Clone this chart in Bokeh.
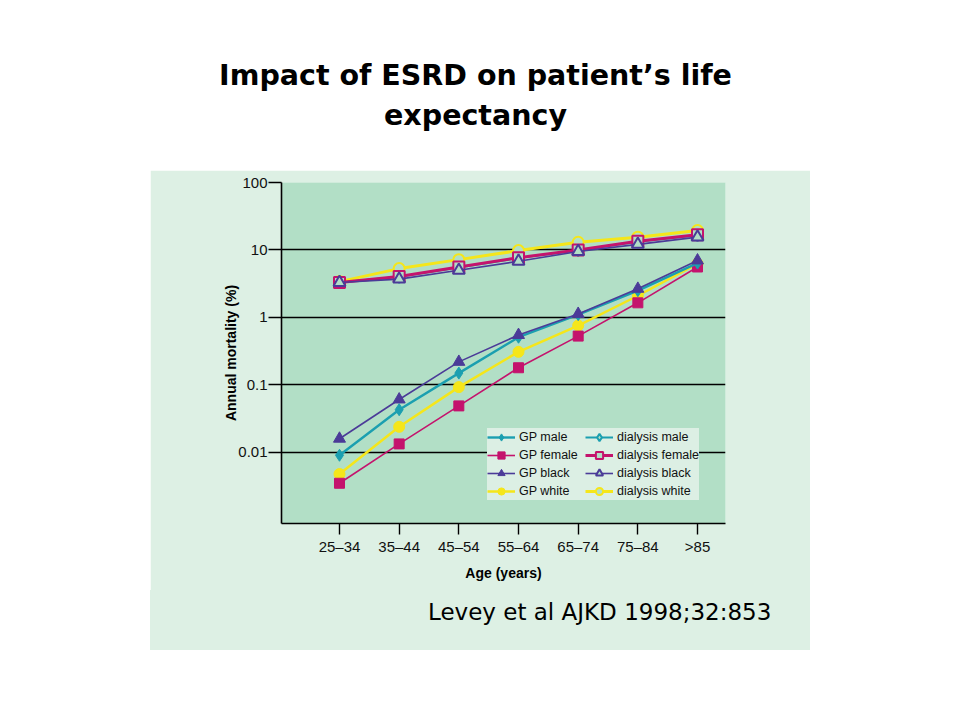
from bokeh.plotting import figure
from bokeh.models import (Range1d, FixedTicker, CustomJSTickFormatter, Legend,
                          LegendItem, Spacer, Div)
from bokeh.layouts import column, row
from bokeh.embed import file_html
from bokeh.resources import INLINE
from bokeh.core.properties import value

# ---------------- data ----------------
age_groups = ["25–34", "35–44", "45–54", "55–64", "65–74", "75–84", ">85"]

gp_male = [0.0091, 0.043, 0.15, 0.51, 1.10, 2.5, 6.4]
gp_female = [0.0035, 0.0134, 0.049, 0.18, 0.53, 1.65, 5.6]
gp_black = [0.016, 0.061, 0.22, 0.55, 1.13, 2.66, 7.0]
gp_white = [0.0048, 0.024, 0.093, 0.31, 0.76, 2.1, 6.3]

dial_male = [3.3, 4.0, 5.5, 7.6, 9.9, 13.3, 16.6]
dial_female = [3.3, 4.05, 5.6, 7.7, 10.0, 13.5, 16.8]
dial_black = [3.3, 3.7, 5.0, 6.8, 9.5, 12.1, 15.5]
dial_white = [3.4, 5.3, 7.2, 9.8, 13.0, 15.5, 19.4]

y_ticks = [0.01, 0.1, 1, 10, 100]
grid_ticks = [0.01, 0.1, 1, 10]

title_lines = ["Impact of ESRD on patient’s life", "expectancy"]
citation = "Levey et al AJKD 1998;32:853"

# ---------------- colours ----------------
TEAL = "#1b9fb0"
MAGENTA = "#c4136d"
PURPLE = "#4b3b98"
YELLOW = "#f5e61a"
PLOT_BG = "#b2dfc6"
PANEL_BG = "#ddf0e4"
LEGEND_BG = "#dcefe4"
FONT = "Liberation Sans"

x = list(range(len(age_groups)))

# ---------------- title figure ----------------
tf = figure(width=944, height=170, x_range=Range1d(0, 944), y_range=Range1d(0, 170),
            output_backend="svg", toolbar_location=None, min_border=0)
tf.axis.visible = False
tf.grid.visible = False
tf.outline_line_color = None
tf.background_fill_color = "white"
tf.border_fill_color = "white"
tf.text(x=[475, 475], y=[95, 55], text=title_lines, text_align="center",
        text_baseline="middle", text_font=value("DejaVu Sans"),
        text_font_style="bold", text_font_size="28.5px", text_color="black")

# ---------------- main figure ----------------
p = figure(width=660, height=420, y_axis_type="log",
           x_range=Range1d(-0.972, 6.469), y_range=Range1d(0.000887, 100),
           output_backend="svg", toolbar_location=None,
           min_border_left=131, min_border_right=85,
           min_border_top=12, min_border_bottom=67)
p.background_fill_color = PLOT_BG
p.border_fill_color = PANEL_BG
p.outline_line_color = None

# axes
p.xaxis.ticker = FixedTicker(ticks=x)
p.xaxis.major_label_overrides = {i: lab for i, lab in enumerate(age_groups)}
p.yaxis.ticker = FixedTicker(ticks=y_ticks)
p.yaxis.formatter = CustomJSTickFormatter(code="return tick >= 1 ? tick.toFixed(0) : tick.toString();")
for ax in (p.xaxis, p.yaxis):
    ax.axis_line_color = "black"
    ax.axis_line_width = 1.6
    ax.major_tick_line_color = "black"
    ax.major_tick_line_width = 1.4
    ax.minor_tick_line_color = None
    ax.major_tick_in = 0
    ax.major_label_text_font = FONT
    ax.major_label_text_font_size = "15px"
    ax.major_label_text_color = "#111111"
    ax.axis_label_text_font = FONT
    ax.axis_label_text_font_style = "bold"
    ax.axis_label_text_font_size = "14px"
    ax.axis_label_text_color = "black"
p.yaxis.major_tick_out = 13
p.yaxis.major_label_standoff = 1
p.yaxis.axis_label = "Annual mortality (%)"
p.yaxis.axis_label_standoff = -4
p.xaxis.major_tick_out = 11
p.xaxis.major_label_standoff = 3
p.xaxis.axis_label = "Age (years)"
p.xaxis.axis_label_standoff = 7

p.xgrid.visible = False
p.ygrid.ticker = FixedTicker(ticks=grid_ticks)
p.ygrid.grid_line_color = "black"
p.ygrid.grid_line_width = 1.5
p.ygrid.minor_grid_line_color = None


def add_series(label, vals, color, marker, filled, lw, size):
    ln = p.line(x, vals, line_color=color, line_width=lw)
    sc = p.scatter(x, vals, marker=marker, size=size, line_color=color,
                   line_width=2 if not filled else 1,
                   fill_color=color if filled else PLOT_BG)
    return LegendItem(label=label, renderers=[ln, sc])


it_gp_white = add_series("GP white", gp_white, YELLOW, "circle", True, 2.5, 11)
it_gp_female = add_series("GP female", gp_female, MAGENTA, "square", True, 1.6, 10)
it_gp_male = add_series("GP male", gp_male, TEAL, "diamond", True, 2.4, 12)
it_gp_black = add_series("GP black", gp_black, PURPLE, "triangle", True, 1.6, 12)

it_d_male = add_series("dialysis male", dial_male, TEAL, "diamond", False, 2.0, 12)
it_d_white = add_series("dialysis white", dial_white, YELLOW, "circle", False, 3.0, 11)
it_d_female = add_series("dialysis female", dial_female, MAGENTA, "square", False, 3.0, 11)
it_d_black = add_series("dialysis black", dial_black, PURPLE, "triangle", False, 1.6, 12)

legend = Legend(items=[it_gp_male, it_gp_female, it_gp_black, it_gp_white,
                       it_d_male, it_d_female, it_d_black, it_d_white],
                ncols=2, location=(206, 23))
legend.background_fill_color = LEGEND_BG
legend.background_fill_alpha = 1
legend.border_line_color = None
legend.padding = 2
legend.margin = 0
legend.spacing = 0
legend.glyph_width = 28
legend.glyph_height = 18
legend.label_height = 18
legend.label_width = 66
legend.label_standoff = 4
legend.label_text_font = FONT
legend.label_text_font_size = "12.5px"
legend.label_text_color = "#111111"
p.add_layout(legend, "center")

# ---------------- citation strip ----------------
cf = Div(text=citation, width=660, height=60, margin=0,
         styles={"background-color": PANEL_BG, "font-family": "DejaVu Sans",
                 "font-size": "23px", "line-height": "44px", "text-indent": "278px",
                 "color": "black", "white-space": "nowrap"})

layout = column(tf, row(Spacer(width=150, height=480), column(p, cf)))

open("out.html", "w").write(file_html(layout, INLINE))
